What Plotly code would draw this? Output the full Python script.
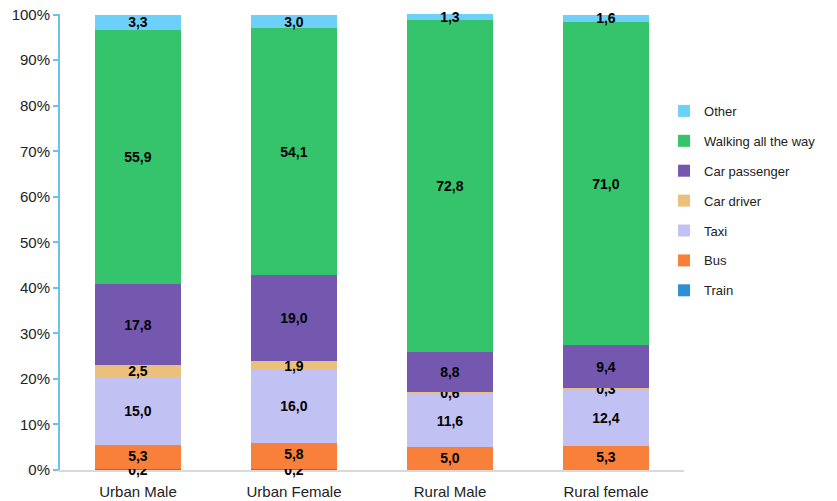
import plotly.graph_objects as go

# categories along x
groups = ['Urban Male', 'Urban Female', 'Rural Male', 'Rural female']

# shares (%) per mode, bottom to top of each stack
train = [0.2, 0.2, 0.0, 0.0]
bus = [5.3, 5.8, 5.0, 5.3]
taxi = [15.0, 16.0, 11.6, 12.4]
car_driver = [2.5, 1.9, 0.6, 0.3]
car_passenger = [17.8, 19.0, 8.8, 9.4]
walking = [55.9, 54.1, 72.8, 71.0]
other = [3.3, 3.0, 1.3, 1.6]

y_ticks = list(range(0, 101, 10))
y_tick_labels = [f'{t}%' for t in y_ticks]

series = [
    ('Train', train, '#2E8FD2'),
    ('Bus', bus, '#F8803A'),
    ('Taxi', taxi, '#C2C1F4'),
    ('Car driver', car_driver, '#EBC07A'),
    ('Car passenger', car_passenger, '#7458B0'),
    ('Walking all the way', walking, '#35C46B'),
    ('Other', other, '#6CD0F8'),
]


def fmt(v):
    # comma decimal, skip empty segments
    return f'{v:.1f}'.replace('.', ',') if v > 0 else ''


fig = go.Figure()
for i, (name, vals, color) in enumerate(series):
    fig.add_trace(go.Bar(
        name=name, x=groups, y=vals,
        legendgroup=name,
        legendrank=len(series) - i,
        marker=dict(color=color, line=dict(width=0)),
        text=[fmt(v) for v in vals],
        textposition='inside',
        # bus label sits high so the tiny train label below stays readable
        insidetextanchor='end' if name == 'Bus' else 'middle',
        textangle=0,
        textfont=dict(family='Liberation Sans, Arial', size=14, color='black', weight='bold'),
        cliponaxis=False,
    ))

fig.update_layout(
    barmode='stack',
    bargap=0.45,
    width=837, height=501,
    margin=dict(l=52, r=161, t=6, b=39, autoexpand=False),
    plot_bgcolor='white', paper_bgcolor='white',
    font=dict(family='Liberation Sans, Arial', size=15, color='#222222'),
    uniformtext=dict(minsize=14, mode='show'),
    legend=dict(
        traceorder='grouped',
        x=0.968, xanchor='left', y=0.59, yanchor='middle',
        font=dict(size=13, color='#222222'),
        itemwidth=30, tracegroupgap=10,
        bgcolor='rgba(0,0,0,0)',
    ),
    showlegend=True,
)
fig.update_xaxes(
    showline=True, linecolor='#D9D9D9', linewidth=2,
    ticks='', showgrid=False, automargin=False,
    ticklabelstandoff=7, layer='below traces',
)
fig.update_yaxes(
    range=[0, 100.15], tickmode='array', tickvals=y_ticks, ticktext=y_tick_labels,
    showgrid=False, zeroline=False, automargin=False,
    ticklabeloverflow='allow',
    showline=True, linecolor='#6EC1EE', linewidth=2,
    ticks='outside', tickcolor='#6EC1EE', ticklen=5, tickwidth=2,
)

fig.write_html('out.html')
